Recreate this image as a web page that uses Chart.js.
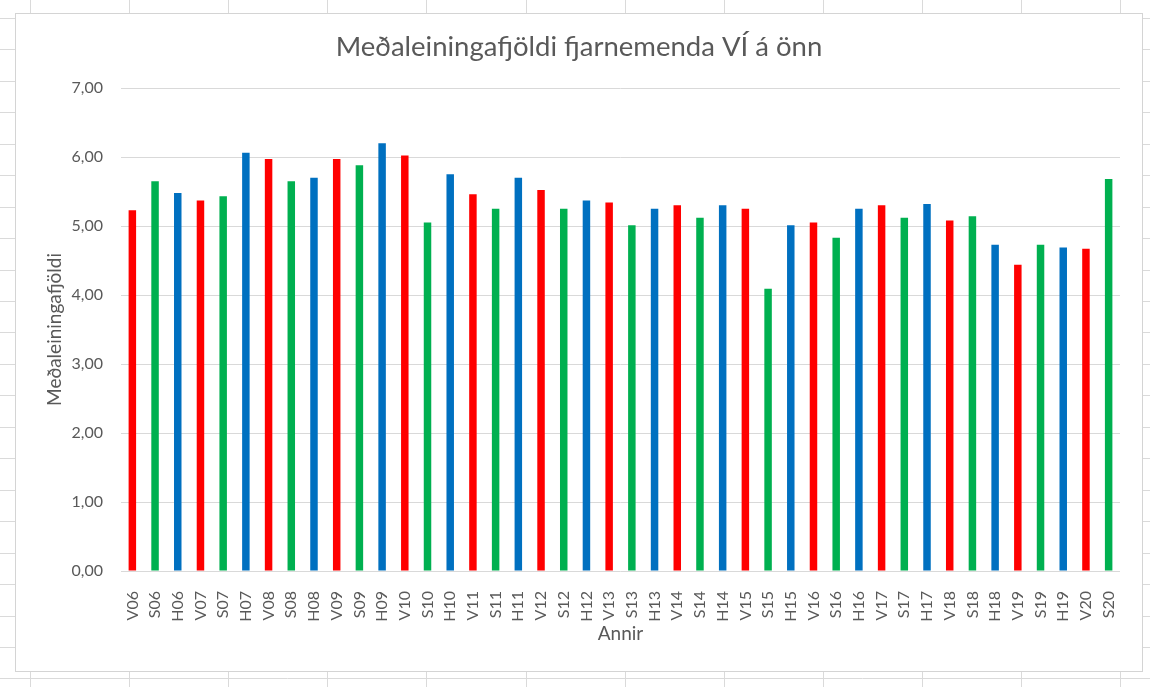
<!DOCTYPE html>
<html>
<head>
<meta charset="utf-8">
<title>Meðaleiningafjöldi fjarnemenda VÍ á önn</title>
<script src="https://cdn.jsdelivr.net/npm/chart.js@4.4.1/dist/chart.umd.min.js"></script>
<style>
    html, body { margin: 0; padding: 0; background: #ffffff; }
    #wrap { width: 1150px; height: 687px; position: relative; }
</style>
</head>
<body>
<div id="wrap"><canvas id="chart"></canvas></div>
<script>
    // Annir (V = vor, S = sumar, H = haust)
    const terms = ["V06", "S06", "H06", "V07", "S07", "H07", "V08", "S08", "H08", "V09", "S09", "H09",
        "V10", "S10", "H10", "V11", "S11", "H11", "V12", "S12", "H12", "V13", "S13", "H13",
        "V14", "S14", "H14", "V15", "S15", "H15", "V16", "S16", "H16", "V17", "S17", "H17",
        "V18", "S18", "H18", "V19", "S19", "H19", "V20", "S20"];

    // Meðaleiningafjöldi per önn
    const avgUnits = [5.23, 5.65, 5.48, 5.37, 5.43, 6.06, 5.97, 5.65, 5.70, 5.97, 5.88, 6.20,
        6.02, 5.05, 5.75, 5.46, 5.25, 5.70, 5.52, 5.25, 5.37, 5.34, 5.01, 5.25,
        5.30, 5.12, 5.30, 5.25, 4.09, 5.01, 5.05, 4.83, 5.25, 5.30, 5.12, 5.32,
        5.08, 5.14, 4.73, 4.44, 4.73, 4.69, 4.67, 5.68];

    const yTicks = [0, 1, 2, 3, 4, 5, 6, 7];

    const termColors = { V: "#FF0000", S: "#00B050", H: "#0070C0" };
    const textColor = "#595959";
    const fontFamily = "Lato, 'Liberation Sans', sans-serif";

    // Excel sheet cells + chart frame behind the chart
    const sheetBackground = {
        id: "sheetBackground",
        beforeDraw: function (chart) {
            var ctx = chart.ctx;
            ctx.save();
            ctx.fillStyle = "#ffffff";
            ctx.fillRect(0, 0, chart.width, chart.height);
            ctx.strokeStyle = "#dadada";
            ctx.lineWidth = 1;
            ctx.beginPath();
            for (var x = 30; x < chart.width; x += 99.1) {
                ctx.moveTo(Math.round(x) + 0.5, 0);
                ctx.lineTo(Math.round(x) + 0.5, chart.height);
            }
            for (var y = 18; y < chart.height; y += 31.45) {
                ctx.moveTo(0, Math.round(y) + 0.5);
                ctx.lineTo(chart.width, Math.round(y) + 0.5);
            }
            ctx.stroke();
            ctx.fillStyle = "#ffffff";
            ctx.fillRect(15, 13, 1128, 659);
            ctx.strokeStyle = "#d4d4d4";
            ctx.strokeRect(15.5, 13.5, 1127, 658);
            ctx.restore();
        }
    };

    var ctx = document.getElementById("chart").getContext("2d");
    var myChart = new Chart(ctx, {
        type: "bar",
        data: {
            labels: terms,
            datasets: [{
                data: avgUnits,
                backgroundColor: terms.map(function (t) { return termColors[t.charAt(0)]; }),
                categoryPercentage: 1,
                barPercentage: 0.33
            }]
        },
        options: {
            responsive: true,
            maintainAspectRatio: false,
            animation: false,
            devicePixelRatio: 1,
            layout: {
                padding: { top: 20, left: 38, right: 30, bottom: 30 }
            },
            plugins: {
                legend: { display: false },
                tooltip: { enabled: false },
                title: {
                    display: true,
                    text: "Meðaleiningafjöldi fjarnemenda VÍ á önn",
                    color: textColor,
                    font: { family: fontFamily, size: 27.5, weight: "normal" },
                    padding: { top: 11, bottom: 24 }
                }
            },
            scales: {
                x: {
                    grid: { display: false },
                    border: { display: false },
                    ticks: {
                        color: textColor,
                        font: { family: fontFamily, size: 16 },
                        maxRotation: 90,
                        minRotation: 90,
                        autoSkip: false,
                        padding: 12
                    },
                    title: {
                        display: true,
                        text: "Annir",
                        color: textColor,
                        font: { family: fontFamily, size: 19 },
                        padding: { top: 0, bottom: 12 }
                    },
                    afterFit: function (scale) { scale.height = 86; }
                },
                y: {
                    min: 0,
                    max: 7,
                    grid: { color: "#d9d9d9", drawTicks: false },
                    border: { display: false },
                    afterBuildTicks: function (scale) {
                        scale.ticks = yTicks.map(function (v) { return { value: v }; });
                    },
                    ticks: {
                        color: textColor,
                        font: { family: fontFamily, size: 16 },
                        padding: 18,
                        callback: function (v) { return v.toFixed(2).replace(".", ","); }
                    },
                    title: {
                        display: true,
                        text: "Meðaleiningafjöldi",
                        color: textColor,
                        font: { family: fontFamily, size: 19 },
                        padding: { top: 5.6, bottom: 0 }
                    },
                    afterFit: function (scale) { scale.width = 83; }
                }
            }
        },
        plugins: [sheetBackground]
    });
</script>
</body>
</html>
